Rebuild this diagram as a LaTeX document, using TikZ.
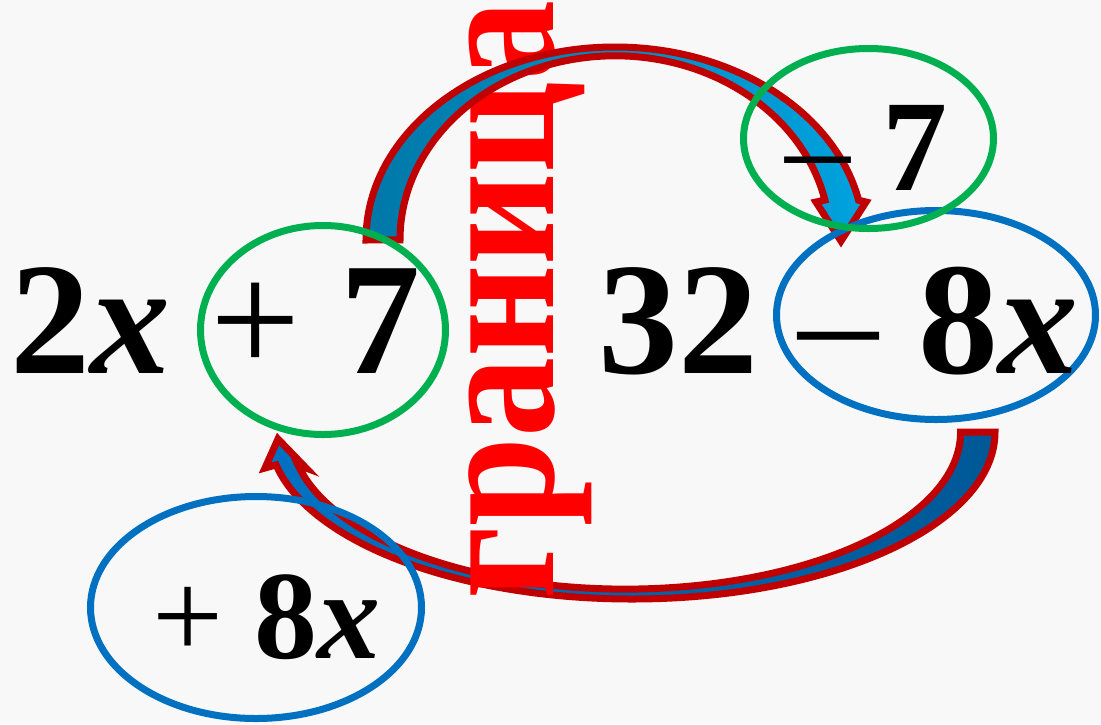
\documentclass[tikz,border=0pt]{standalone}
\usepackage{fontspec}
\usepackage{graphicx}
\setmainfont{Liberation Serif}
\usetikzlibrary{shapes.geometric}
\definecolor{bg}{RGB}{248,248,248}
\definecolor{arrowred}{RGB}{192,0,0}
\definecolor{grn}{RGB}{0,176,80}
\definecolor{blu}{RGB}{0,112,192}
\definecolor{txtred}{RGB}{255,0,0}
\definecolor{topL}{RGB}{0,120,168}
\definecolor{topR}{RGB}{0,162,222}
\definecolor{botL}{RGB}{0,114,194}
\definecolor{botR}{RGB}{0,88,150}
\newcommand{\opr}[1]{{\mdseries #1}}
\begin{document}
\begin{tikzpicture}[x=1pt,y=-1pt,
  bigtxt/.style={font=\fontsize{160}{160}\selectfont\bfseries, inner sep=0pt, anchor=base west},
  midtxt/.style={font=\fontsize{130}{130}\selectfont\bfseries, inner sep=0pt, anchor=base west},
  smalltxt/.style={font=\fontsize{126}{126}\selectfont\bfseries, inner sep=0pt, anchor=base west},
  ring/.style={ellipse, draw, line width=7pt, inner sep=0pt},
  blockarrow/.style={draw=arrowred, line width=7pt, line join=miter, miter limit=10}]
\fill[bg] (0,0) rectangle (1101,724);
\useasboundingbox (0,0) rectangle (1101,724);

% lower curved arrow
\path[blockarrow, left color=botL, right color=botR]
  (995,432) arc[start angle=0, end angle=168.64, x radius=363, y radius=167]
  -- (265,468) -- (278,439) -- (306,468) -- (298,465)
  arc[start angle=167.9, end angle=0, x radius=335, y radius=157] -- cycle;

% vertical red word
\node[rotate=90, anchor=base, inner sep=0pt, text=txtred,
      font=\fontsize{180}{180}\selectfont\bfseries] (word) at (553,300) {\scalebox{0.89}[1]{граница}};

% upper curved arrow
\path[blockarrow, left color=topL, right color=topR]
  (366,240) arc[start angle=180, end angle=348.1, x radius=249, y radius=193]
  -- (866,202) -- (841,241) -- (816,202) -- (824.9,200)
  arc[start angle=347.5, end angle=180, x radius=215, y radius=184] -- cycle;

% ellipses
\node[ring, draw=grn, minimum width=245pt, minimum height=209pt] (e1) at (323,330) {};
\node[ring, draw=blu, minimum width=319pt, minimum height=209pt] (e2) at (936,315) {};
\node[ring, draw=grn, minimum width=250pt, minimum height=180pt] (e3) at (868.5,138.5) {};
\node[ring, draw=blu, minimum width=331pt, minimum height=222pt] (e4) at (256,607.5) {};

% formulas
\node[bigtxt] (lhs) at (10,373) {2\textit{x} \opr{+} 7};
\node[bigtxt] (rhs) at (598,373) {32 \opr{–} 8\textit{x}};
\node[midtxt] (m7) at (785,190) {\opr{–} 7};
\node[smalltxt] (p8x) at (152,658) {\opr{+} 8\textit{x}};
\end{tikzpicture}
\end{document}
